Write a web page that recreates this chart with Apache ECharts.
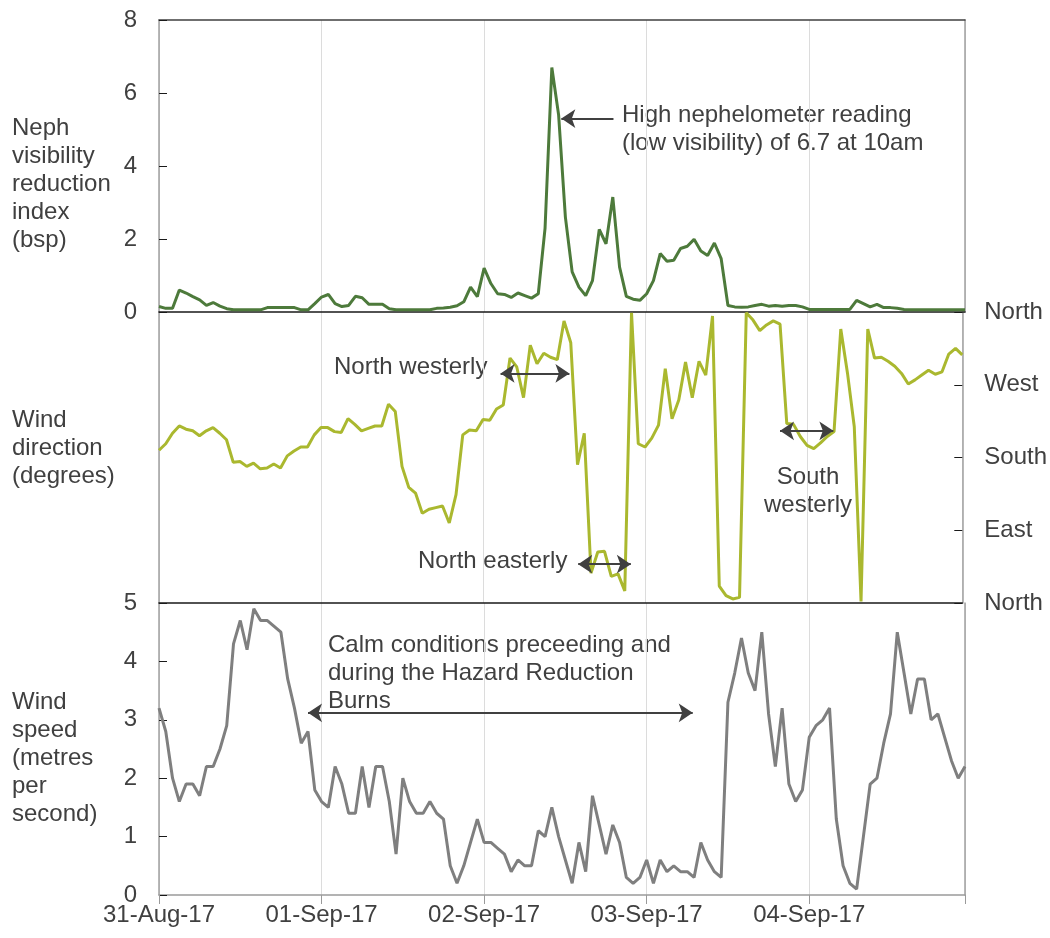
<!DOCTYPE html>
<html>
<head>
<meta charset="utf-8">
<script src="https://cdn.jsdelivr.net/npm/echarts@6/dist/echarts.min.js"></script>
<style>
html,body{margin:0;padding:0;background:#fff;}
#chart{width:1050px;height:938px;}
</style>
</head>
<body>
<div id="chart"></div>
<script>
// Hourly observations from 31-Aug-17 00:00 (index = hour)
const dayLabels = ['31-Aug-17', '01-Sep-17', '02-Sep-17', '03-Sep-17', '04-Sep-17'];
const directionLabels = ['North', 'East', 'South', 'West', 'North'];

const neph = [
  0.15,0.1,0.1,0.6,0.52,0.42,0.33,0.18,0.26,0.16,
  0.09,0.06,0.06,0.06,0.06,0.06,0.12,0.12,0.12,0.12,
  0.12,0.06,0.06,0.23,0.41,0.48,0.23,0.15,0.18,0.43,
  0.39,0.21,0.21,0.21,0.09,0.06,0.06,0.06,0.06,0.06,
  0.06,0.1,0.11,0.13,0.17,0.28,0.68,0.42,1.2,0.78,
  0.5,0.48,0.4,0.52,0.45,0.38,0.5,2.3,6.7,5.4,
  2.6,1.1,0.68,0.45,0.86,2.26,1.87,3.15,1.23,0.43,
  0.35,0.32,0.5,0.86,1.6,1.39,1.42,1.74,1.8,1.99,
  1.67,1.55,1.89,1.46,0.18,0.14,0.13,0.14,0.18,0.21,
  0.16,0.18,0.16,0.18,0.18,0.14,0.07,0.07,0.07,0.07,
  0.07,0.07,0.07,0.32,0.23,0.14,0.21,0.12,0.12,0.1,
  0.07,0.06,0.06,0.06,0.06,0.06,0.06,0.06,0.06,0.06
];

const windDirection = [
  189,197,210,219,215,213,207,213,217,210,
  202,174,175,169,173,166,167,172,167,182,
  188,193,193,208,217,217,212,211,228,221,
  213,216,219,219,246,237,169,143,136,111,
  116,118,120,99,134,208,214,213,227,226,
  240,245,303,292,254,319,296,309,304,301,
  349,322,171,210,37,63,64,33,36,15,
  359,197,193,204,220,290,228,251,298,254,
  299,282,355,21,9,5,7,359,350,337,
  344,349,345,222,221,206,195,191,198,206,
  212,339,284,218,2,339,303,304,299,293,
  284,271,276,282,288,283,286,308,315,307
];

const windSpeed = [
  3.2,2.8,2.0,1.6,1.9,1.9,1.7,2.2,2.2,2.5,
  2.9,4.3,4.7,4.2,4.9,4.7,4.7,4.6,4.5,3.7,
  3.2,2.6,2.8,1.8,1.6,1.5,2.2,1.9,1.4,1.4,
  2.2,1.5,2.2,2.2,1.6,0.7,2.0,1.6,1.4,1.4,
  1.6,1.4,1.3,0.5,0.2,0.5,0.9,1.3,0.9,0.9,
  0.8,0.7,0.4,0.6,0.5,0.5,1.1,1.0,1.5,1.0,
  0.6,0.2,0.9,0.4,1.7,1.2,0.7,1.2,0.9,0.3,
  0.2,0.3,0.6,0.2,0.6,0.4,0.5,0.4,0.4,0.3,
  0.9,0.6,0.4,0.3,3.3,3.8,4.4,3.8,3.5,4.5,
  3.1,2.2,3.2,1.9,1.6,1.8,2.7,2.9,3.0,3.2,
  1.3,0.5,0.2,0.1,1.0,1.9,2.0,2.6,3.1,4.5,
  3.8,3.1,3.7,3.7,3.0,3.1,2.7,2.3,2.0,2.2
];

const FONT = '"Liberation Sans", Arial, sans-serif';
const TXT = '#404040';
const chart = echarts.init(document.getElementById('chart'), null, {renderer: 'canvas'});

function xAxisFor(k) {
  return {
    gridIndex: k, type: 'value', min: 0, max: neph.length - 1, interval: 24,
    axisLine: {show: true, onZero: false, lineStyle: {color: k < 2 ? '#1a1a1a' : '#9a9a9a', width: 1.5}},
    axisTick: {show: k === 2, length: 9, lineStyle: {color: '#9a9a9a'}},
    axisLabel: {
      show: k === 2, fontSize: 24, fontFamily: FONT, color: TXT, margin: 8,
      formatter: v => (v % 24 === 0 && dayLabels[v / 24]) ? dayLabels[v / 24] : ''
    },
    splitLine: {show: true, lineStyle: {color: '#dcdcdc', width: 1}}
  };
}
function plainY(k, pos) {
  return {
    gridIndex: k, type: 'value', position: pos, min: 0, max: 1,
    axisLine: {show: true, onZero: false, lineStyle: {color: '#a0a0a0', width: 1.5}},
    axisTick: {show: false}, axisLabel: {show: false}, splitLine: {show: false}
  };
}
const arrowStyle = {color: '#404040', width: 2, type: 'solid'};
function arrow(x1, y1, x2, y2, both) {
  return {
    silent: true, animation: false, symbol: [both ? 'arrow' : 'none', 'arrow'], symbolSize: 14,
    label: {show: false}, lineStyle: arrowStyle, emphasis: {disabled: true},
    data: [[{coord: [x1, y1]}, {coord: [x2, y2]}]]
  };
}
function txt(x, y, text, align) {
  return {
    type: 'text', x: x, y: y, silent: true,
    style: {text: text, font: '24px ' + FONT, fill: TXT, lineHeight: 28, textAlign: align || 'left', textVerticalAlign: 'top'}
  };
}

const option = {
  animation: false,
  backgroundColor: '#fff',
  grid: [
    {left: 159, right: 85, top: 20, height: 292},
    {left: 159, right: 85, top: 312, height: 291},
    {left: 159, right: 85, top: 603, height: 292}
  ],
  xAxis: [
    xAxisFor(0), xAxisFor(1), xAxisFor(2),
    {gridIndex: 0, type: 'value', min: 0, max: neph.length - 1, position: 'top',
     axisLine: {show: true, onZero: false, lineStyle: {color: '#404040', width: 1.5}},
     axisTick: {show: false}, axisLabel: {show: false}, splitLine: {show: false}}
  ],
  yAxis: [
    {gridIndex: 0, type: 'value', min: 0, max: 8, interval: 2,
     axisLine: {show: true, onZero: false, lineStyle: {color: '#a0a0a0', width: 1.5}},
     axisTick: {show: true, inside: true, length: 8, lineStyle: {color: '#1a1a1a'}},
     axisLabel: {fontSize: 24, fontFamily: FONT, color: TXT, margin: 22},
     splitLine: {show: false}},
    plainY(1, 'left'),
    {gridIndex: 1, type: 'value', position: 'right', min: 0, max: 360, interval: 90,
     axisLine: {show: true, onZero: false, lineStyle: {color: '#a0a0a0', width: 1.5}},
     axisTick: {show: true, inside: true, length: 8, lineStyle: {color: '#1a1a1a'}},
     axisLabel: {fontSize: 24, fontFamily: FONT, color: TXT, margin: 22,
                 formatter: v => directionLabels[v / 90]},
     splitLine: {show: false}},
    {gridIndex: 2, type: 'value', min: 0, max: 5, interval: 1,
     axisLine: {show: true, onZero: false, lineStyle: {color: '#a0a0a0', width: 1.5}},
     axisTick: {show: true, inside: true, length: 8, lineStyle: {color: '#1a1a1a'}},
     axisLabel: {fontSize: 24, fontFamily: FONT, color: TXT, margin: 22},
     splitLine: {show: false}},
    plainY(0, 'right'),
    plainY(2, 'right')
  ],
  series: [
    {type: 'line', xAxisIndex: 0, yAxisIndex: 0, showSymbol: false, symbol: 'none',
     lineStyle: {color: '#4d7a3b', width: 3}, data: neph.map((v, i) => [i, v]),
     markLine: arrow(67.1, 5.3, 59.4, 5.3, false)},
    {type: 'line', xAxisIndex: 1, yAxisIndex: 2, showSymbol: false, symbol: 'none',
     lineStyle: {color: '#aab82f', width: 3}, data: windDirection.map((v, i) => [i, v]),
     markLine: {
       silent: true, animation: false, symbol: ['arrow', 'arrow'], symbolSize: 14,
       label: {show: false}, lineStyle: arrowStyle, emphasis: {disabled: true},
       data: [
         [{coord: [50.6, 284]}, {coord: [60.8, 284]}],
         [{coord: [62.1, 48]}, {coord: [69.9, 48]}],
         [{coord: [92.0, 213]}, {coord: [99.9, 213]}]
       ]
     }},
    {type: 'line', xAxisIndex: 2, yAxisIndex: 3, showSymbol: false, symbol: 'none',
     lineStyle: {color: '#7f7f7f', width: 3}, data: windSpeed.map((v, i) => [i, v]),
     markLine: arrow(22.0, 3.12, 78.8, 3.12, true)}
  ],
  graphic: [
    txt(12, 114, 'Neph\nvisibility\nreduction\nindex\n(bsp)'),
    txt(12, 406, 'Wind\ndirection\n(degrees)'),
    txt(12, 688, 'Wind\nspeed\n(metres\nper\nsecond)'),
    txt(622, 101, 'High nephelometer reading\n(low visibility) of 6.7 at 10am'),
    txt(334, 353, 'North westerly'),
    txt(418, 547, 'North easterly'),
    txt(808, 463, 'South\nwesterly', 'center'),
    txt(328, 631, 'Calm conditions preceeding and\nduring the Hazard Reduction\nBurns')
  ]
};
chart.setOption(option);
</script>
</body>
</html>
